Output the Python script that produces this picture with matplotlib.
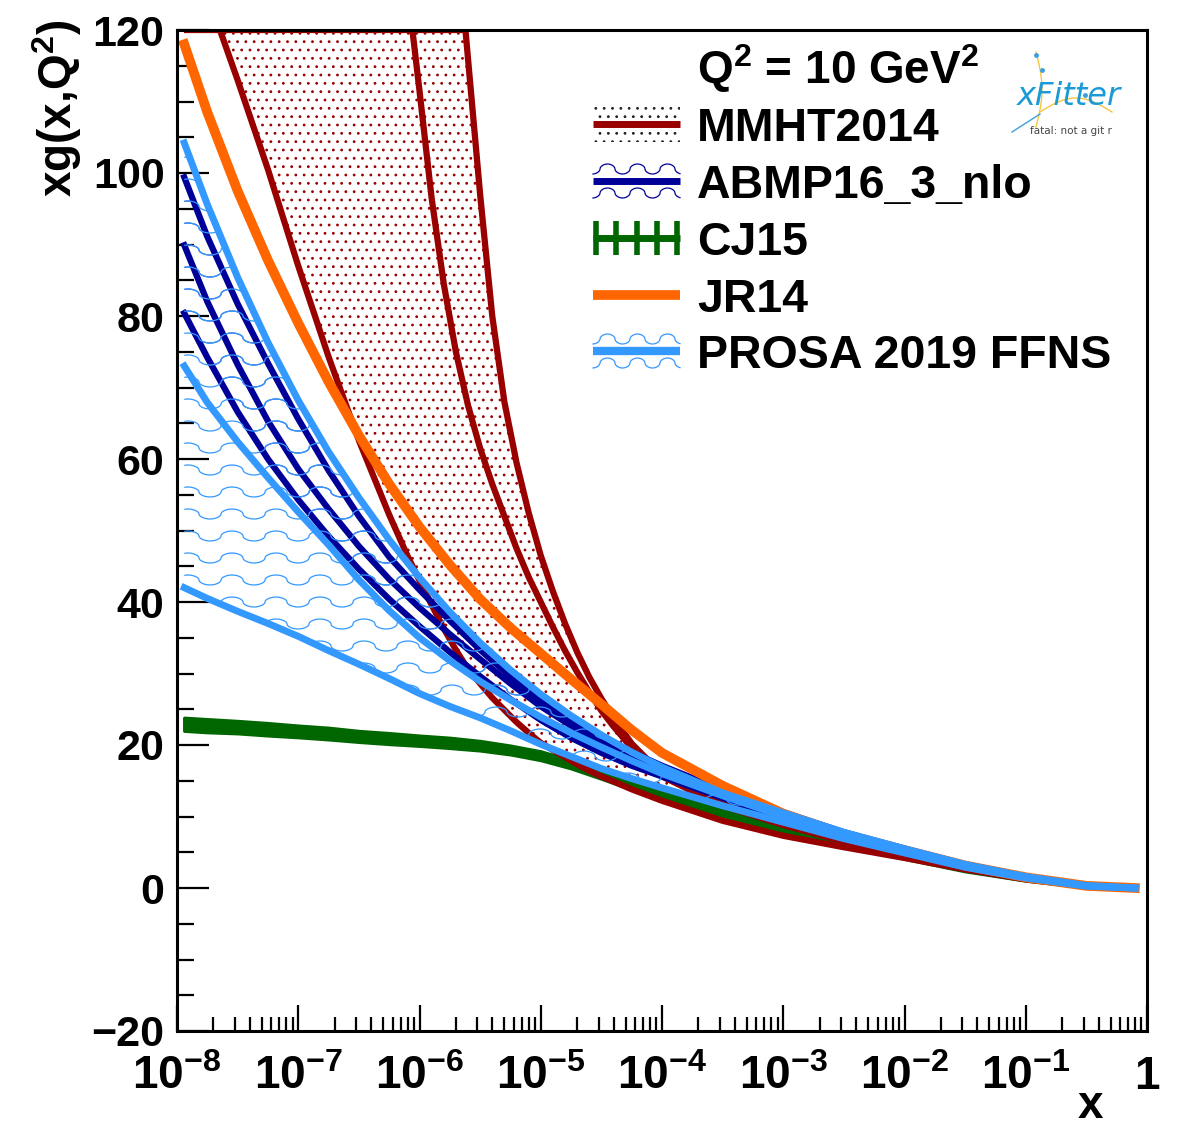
import numpy as np
import matplotlib
matplotlib.use('Agg')
import matplotlib.pyplot as plt
from matplotlib.lines import Line2D
from matplotlib.patches import Rectangle
from matplotlib.ticker import MultipleLocator, LogLocator, FuncFormatter, NullFormatter

plt.rcParams['font.family'] = ['Liberation Sans', 'DejaVu Sans']
plt.rcParams['font.weight'] = 'bold'
plt.rcParams['mathtext.fontset'] = 'custom'
plt.rcParams['mathtext.rm'] = 'Liberation Sans:bold'
plt.rcParams['mathtext.bf'] = 'Liberation Sans:bold'
plt.rcParams['mathtext.it'] = 'Liberation Sans:bold'
plt.rcParams['mathtext.default'] = 'rm'
plt.rcParams['hatch.linewidth'] = 0.8

log_x = [-7.94, -7.75, -7.5, -7.25, -7.0, -6.75, -6.5, -6.25, -6.0, -5.75, -5.5, -5.25,
         -5.0, -4.75, -4.5, -4.25, -4.0, -3.5, -3.0, -2.5, -2.0, -1.5, -1.0, -0.5, -0.1]

# MMHT2014 is steep, so it was read on a finer grid
mmht_log_x = [-7.94, -7.75, -7.5, -7.25, -7.0, -6.75, -6.5, -6.25, -6.1, -6.0, -5.9, -5.8,
              -5.7, -5.6, -5.5, -5.4, -5.3, -5.2, -5.1, -5.0, -4.9, -4.8, -4.7, -4.6,
              -4.5, -4.4, -4.25, -4.0, -3.5, -3.0, -2.5, -2.0, -1.5, -1.0, -0.5, -0.1]
# lower edge, central, upper edge (values above 120 are off the plot)
mmht_low = [135, 125, 113, 100.5, 87.0, 74.3, 62.6, 52.2, 46.5, 43.0, 39.6, 36.3,
            33.3, 30.6, 28.6, 26.6, 24.9, 23.2, 21.7, 20.3, 19.3, 18.3, 17.3, 16.4,
            15.6, 14.9, 13.8, 12.2, 9.4, 7.3, 5.7, 4.2, 2.6, 1.2, 0.25, 0.0]
mmht_mid = [330, 310, 280, 255, 230, 212, 190, 160, 126, 111.5, 96.5, 84.5,
            75, 67.5, 61.5, 56.5, 52, 47.5, 43.5, 40, 36.5, 33.2, 30.2, 27.4,
            24.8, 22.6, 19.6, 15.6, 11.5, 8.8, 6.5, 4.6, 2.8, 1.35, 0.3, 0.0]
mmht_up = [400, 380, 350, 320, 290, 260, 235, 210, 195, 185, 170, 153,
           135, 116, 97, 80, 68, 59.5, 52.5, 46.5, 41.5, 37, 33, 29.5,
           26.5, 23.8, 20.2, 15.9, 11.8, 9.0, 6.6, 4.7, 2.8, 1.4, 0.3, 0.0]

# ABMP16_3_nlo: upper, central, lower
abmp_up = [99.4, 91.1, 81.7, 73.4, 65.6, 58.4, 52.0, 46.3, 41.7, 37.4, 33.3, 29.6,
           26.2, 23.5, 21.1, 19.0, 17.1, 13.7, 10.6, 7.8, 5.5, 3.3, 1.6, 0.35, 0.0]
abmp_mid = [89.9, 82.0, 73.2, 65.3, 58.6, 53.0, 47.8, 43.2, 39.2, 35.5, 32.0, 28.6,
            25.4, 22.7, 20.4, 18.3, 16.4, 13.1, 10.2, 7.5, 5.3, 3.2, 1.5, 0.3, 0.0]
abmp_low = [80.4, 74.2, 66.6, 60.0, 54.3, 49.2, 44.6, 40.4, 36.6, 33.0, 29.6, 26.4,
            23.5, 21.0, 18.9, 17.1, 15.6, 12.6, 9.8, 7.2, 5.1, 3.1, 1.5, 0.3, 0.0]

# CJ15: central and half width
cj15_mid = [22.9, 22.7, 22.5, 22.2, 21.9, 21.6, 21.2, 20.9, 20.6, 20.3, 19.9, 19.3,
            18.5, 17.3, 15.8, 14.3, 13.0, 10.5, 8.1, 6.1, 4.4, 2.6, 1.25, 0.25, 0.0]
cj15_err = [0.9, 0.9, 0.85, 0.85, 0.8, 0.8, 0.75, 0.75, 0.7, 0.7, 0.65, 0.6,
            0.6, 0.55, 0.5, 0.5, 0.45, 0.4, 0.35, 0.3, 0.3, 0.25, 0.2, 0.15, 0.1]

# JR14
jr14 = [118, 108.5, 97.5, 87.8, 79.0, 70.8, 63.3, 56.5, 50.5, 45.2, 40.4, 36.4,
        32.8, 29.2, 25.7, 22.1, 18.9, 14.3, 10.4, 7.5, 5.3, 3.15, 1.5, 0.3, 0.0]

# PROSA 2019 FFNS: upper, central, lower
prosa_up = [104.2, 95.6, 85.4, 76.3, 68.2, 61.0, 54.6, 48.7, 43.4, 38.6, 34.3, 30.5,
            27.1, 24.1, 21.4, 19.0, 16.9, 13.3, 10.5, 7.8, 5.5, 3.3, 1.6, 0.35, 0.0]
prosa_mid = [73.0, 67.9, 62.4, 57.4, 52.6, 48.0, 43.1, 38.8, 35.0, 31.8, 28.9, 26.3,
             23.9, 21.7, 19.7, 17.8, 16.0, 12.9, 10.0, 7.4, 5.2, 3.1, 1.5, 0.3, 0.0]
prosa_low = [42.0, 40.5, 38.7, 37.0, 35.2, 33.2, 31.3, 29.3, 27.2, 25.4, 23.8, 22.0,
             20.1, 18.4, 16.7, 15.3, 14.0, 11.5, 9.2, 6.9, 4.9, 2.9, 1.4, 0.25, 0.0]

legend_labels = ['MMHT2014', 'ABMP16_3_nlo', 'CJ15', 'JR14', 'PROSA 2019 FFNS']
header = 'Q$^{2}$ = 10 GeV$^{2}$'

RED = '#990000'
BLUE = '#000099'
GREEN = '#006600'
ORANGE = '#ff6600'
LBLUE = '#3399ff'
ABMP_WAVE = '#3355cc'

W, H = 1179, 1126
YMAX = 120

WAVE_PERIOD = 44.0
WAVE_AMP = 5.0
WAVE_STEP = 22.0


def wave(t, period):
    s = np.sin(2 * np.pi * t / period)
    return np.sign(s) * np.abs(s) ** 0.5


def add_waves(ax, band, color):
    # ROOT style wavy fill pattern, clipped to the band
    path = band.get_paths()[0]
    t = np.linspace(0, 970, 4000)
    for y0 in np.arange(WAVE_STEP / 2, 1001, WAVE_STEP):
        yy = (y0 + WAVE_AMP * wave(t, WAVE_PERIOD)) / 1001
        ln = Line2D(t / 970, yy, transform=ax.transAxes, color=color, lw=0.9)
        ax.add_line(ln)
        ln.set_clip_path(path, ax.transData)


def top_crossing(lx, vals):
    v = np.array(vals, dtype=float)
    i = np.where(v < YMAX)[0][0]
    f = (v[i - 1] - YMAX) / (v[i - 1] - v[i])
    return 10 ** (lx[i - 1] + f * (lx[i] - lx[i - 1]))


fig = plt.figure(figsize=(W / 100, H / 100), dpi=100)
ax = fig.add_axes([177 / W, 1 - 1031 / H, 970 / W, 1001 / H])
ax.set_xscale('log')
ax.set_autoscale_on(False)
ax.set_xlim(1e-8, 1)
ax.set_ylim(-20, 120)

x = 10 ** np.array(log_x)
xm = 10 ** np.array(mmht_log_x)

# MMHT2014 (ROOT draws the clipped part along the frame)
ax.fill_between(xm, mmht_low, mmht_up, facecolor='none', edgecolor=RED, hatch='..', linewidth=0)
for arr in (mmht_low, mmht_mid, mmht_up):
    ax.plot(xm, arr, color=RED, lw=4.5)
ax.plot([xm[0], top_crossing(mmht_log_x, mmht_up)], [YMAX, YMAX], color=RED, lw=4.5,
        solid_capstyle='butt')

# ABMP16
band = ax.fill_between(x, abmp_low, abmp_up, facecolor='none', edgecolor='none')
add_waves(ax, band, ABMP_WAVE)
for arr in (abmp_low, abmp_mid, abmp_up):
    ax.plot(x, arr, color=BLUE, lw=4.5)

# CJ15
cj_mid = np.array(cj15_mid)
cj_err = np.array(cj15_err)
ax.fill_between(x, cj_mid - cj_err, cj_mid + cj_err, color=GREEN, lw=2.5)

# JR14
ax.plot(x, jr14, color=ORANGE, lw=7)

# PROSA
band = ax.fill_between(x, prosa_low, prosa_up, facecolor='none', edgecolor='none')
add_waves(ax, band, LBLUE)
for arr in (prosa_low, prosa_mid, prosa_up):
    ax.plot(x, arr, color=LBLUE, lw=5)

# axes styling (ROOT look)
for s in ax.spines.values():
    s.set_linewidth(2.2)
ax.yaxis.set_major_locator(MultipleLocator(20))
ax.yaxis.set_minor_locator(MultipleLocator(5))
ax.xaxis.set_major_locator(LogLocator(base=10, numticks=20))
ax.xaxis.set_minor_locator(LogLocator(base=10, subs=np.arange(2, 10), numticks=20))
ax.xaxis.set_minor_formatter(NullFormatter())


def fmt_x(v, pos):
    e = int(round(np.log10(v)))
    return '1' if e == 0 else r'$10^{%d}$' % e


ax.xaxis.set_major_formatter(FuncFormatter(fmt_x))
ax.tick_params(axis='both', which='both', direction='in', top=False, right=False, width=1.6)
ax.tick_params(axis='y', which='major', length=23, pad=9, labelsize=31)
ax.tick_params(axis='y', which='minor', length=12)
ax.tick_params(axis='x', which='major', length=19, pad=17, labelsize=33)
ax.tick_params(axis='x', which='minor', length=10)

# overlay in pixel coordinates for labels, legend and logo
lg = fig.add_axes([0, 0, 1, 1])
lg.set_xlim(0, W)
lg.set_ylim(H, 0)
lg.axis('off')

lg.text(57, 20, 'xg(x,Q$^{2}$)', rotation=90, ha='center', va='top', fontsize=33)
lg.text(1090, 1118, 'x', ha='center', va='baseline', fontsize=33)

# legend
sx0, sx1 = 593, 680
tx = 697
lg.text(tx, 84, header, ha='left', va='baseline', fontsize=33)
rows = [124, 181, 238, 295, 351]


def legend_waves(yc, color):
    t = np.linspace(0, sx1 - sx0, 300)
    for dy in (-12, 12):
        lg.plot(sx0 + t, yc + dy + WAVE_AMP * wave(t + 8, 30.0), color=color, lw=0.9)


# MMHT2014
lg.add_patch(Rectangle((sx0, rows[0] - 18), sx1 - sx0, 36, facecolor='none',
                       edgecolor='#222222', hatch='..', linewidth=0))
lg.plot([sx0, sx1], [rows[0], rows[0]], color=RED, lw=5, solid_capstyle='butt')
# ABMP16
legend_waves(rows[1], BLUE)
lg.plot([sx0, sx1], [rows[1], rows[1]], color=BLUE, lw=5, solid_capstyle='butt')
# CJ15
lg.plot([sx0, sx1], [rows[2], rows[2]], color=GREEN, lw=5, solid_capstyle='butt')
for bx in np.linspace(sx0 + 3, sx1 - 3, 5):
    lg.plot([bx, bx], [rows[2] - 17, rows[2] + 17], color=GREEN, lw=4, solid_capstyle='butt')
# JR14
lg.plot([sx0, sx1], [rows[3], rows[3]], color=ORANGE, lw=7, solid_capstyle='butt')
# PROSA
legend_waves(rows[4], LBLUE)
lg.plot([sx0, sx1], [rows[4], rows[4]], color=LBLUE, lw=6, solid_capstyle='butt')

for yc, lab in zip(rows, legend_labels):
    lg.text(tx, yc + 17, lab, ha='left', va='baseline', fontsize=33.5)

# xFitter logo
lg.text(1017, 105, 'xFitter', ha='left', va='baseline', fontsize=23, color='#1a9ad6',
        style='italic', weight='normal', family=['DejaVu Sans'])
lg.text(1030, 134, 'fatal: not a git r', ha='left', va='baseline', fontsize=7.5,
        color='#444444', weight='normal', family=['DejaVu Sans'])
tt = np.linspace(0, 1, 100)
lg.plot(1036 + 6 * np.sin(np.pi * tt), 52 + 75 * tt, color='#f5c542', lw=1)
lg.plot(1040 + 72 * tt, 112 - 14 * np.sin(np.pi * tt), color='#f5c542', lw=1)
lg.plot(1040 - 28 * tt, 114 + 18 * tt, color='#3aa0e0', lw=1)
lg.plot([1036, 1042, 1085], [55, 70, 95], 'o', color='#3aa0e0', ms=2.5)

fig.savefig('out.png', dpi=100)
